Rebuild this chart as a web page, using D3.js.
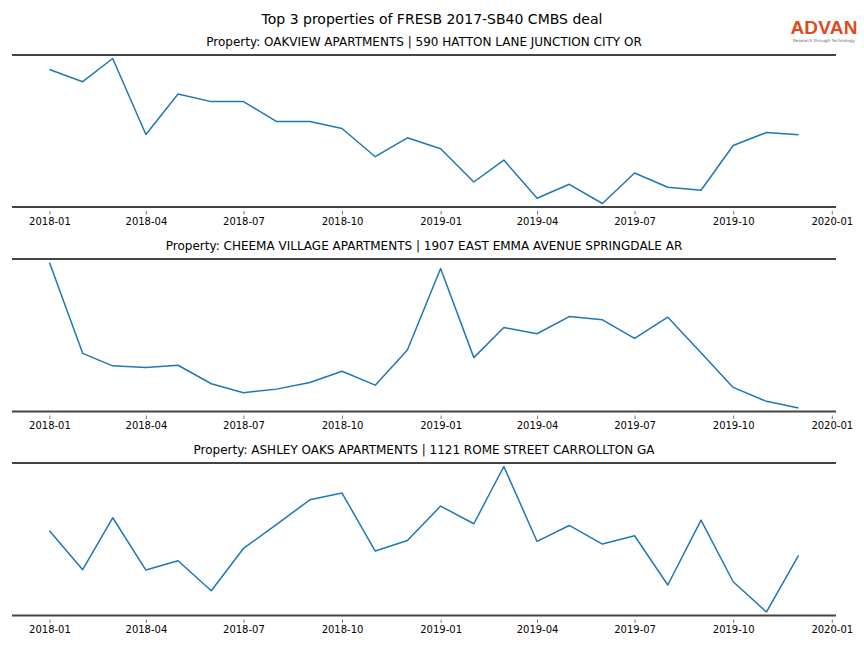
<!DOCTYPE html>
<html>
<head>
<meta charset="utf-8">
<script src="https://cdn.jsdelivr.net/npm/d3@7"></script>
<style>
  html, body { margin: 0; padding: 0; background: #fff; }
  svg { display: block; font-family: "DejaVu Sans", sans-serif; }
</style>
</head>
<body>
<svg id="chart" width="864" height="648"></svg>
<script>
// ---- Data ----
const months = [
  "2018-01","2018-02","2018-03","2018-04","2018-05","2018-06",
  "2018-07","2018-08","2018-09","2018-10","2018-11","2018-12",
  "2019-01","2019-02","2019-03","2019-04","2019-05","2019-06",
  "2019-07","2019-08","2019-09","2019-10","2019-11","2019-12"
];
const tickLabels = ["2018-01","2018-04","2018-07","2018-10","2019-01","2019-04","2019-07","2019-10","2020-01"];

const chartTitle = "Top 3 properties of FRESB 2017-SB40 CMBS deal";
const propertyTitles = [
  "Property: OAKVIEW APARTMENTS | 590 HATTON LANE JUNCTION CITY OR",
  "Property: CHEEMA VILLAGE APARTMENTS | 1907 EAST EMMA AVENUE SPRINGDALE AR",
  "Property: ASHLEY OAKS APARTMENTS | 1121 ROME STREET CARROLLTON GA"
];

// relative activity index per month
const oakviewValues = [137.0, 124.7, 148.0, 71.7, 112.4, 104.7, 104.7, 84.7, 84.7, 77.7, 49.4, 68.4,
                       57.4, 24.0, 46.0, 7.7, 21.7, 2.4, 33.0, 18.7, 15.7, 60.7, 73.7, 71.4];
const cheemaValues  = [149.4, 58.0, 45.4, 43.7, 46.0, 27.4, 18.4, 22.0, 28.7, 40.0, 26.0, 61.4,
                       143.4, 53.7, 84.0, 77.7, 95.0, 91.7, 73.0, 94.4, 58.7, 23.7, 9.7, 3.0];
const ashleyValues  = [84.3, 45.3, 97.3, 45.0, 54.3, 24.3, 66.6, 90.6, 115.3, 122.0, 64.0, 74.6,
                       109.0, 91.3, 148.6, 73.6, 89.6, 71.0, 79.3, 30.0, 95.0, 33.3, 3.0, 59.6];

const seriesList = [oakviewValues, cheemaValues, ashleyValues];

// ---- Layout ----
const svg = d3.select("#chart");
const W = 864;
const left = 12, right = 836;
const panels = [ {top: 55, bottom: 207}, {top: 259, bottom: 411.5}, {top: 463, bottom: 615.5} ];
const parse = d3.timeParse("%Y-%m");
const dates = months.map(parse);
const tickDates = tickLabels.map(parse);

// x scale: matplotlib-like 5% margin around the data range
const x0 = dates[0], x1 = dates[dates.length - 1];
const span = x1 - x0;
const x = d3.scaleTime()
  .domain([new Date(+x0 - span * 0.05), new Date(+x1 + span * 0.05)])
  .range([left, right]);

svg.append("text")
  .attr("x", W / 2).attr("y", 24)
  .attr("text-anchor", "middle")
  .attr("font-size", 14)
  .attr("fill", "#000")
  .text(chartTitle);

// logo
const logo = svg.append("g");
logo.append("text")
  .attr("x", 824).attr("y", 34)
  .attr("text-anchor", "middle")
  .attr("font-size", 19)
  .attr("font-weight", "bold")
  .attr("font-family", "'Liberation Sans', Arial, sans-serif")
  .attr("fill", "#e04a1c")
  .attr("letter-spacing", 0.2)
  .text("ADVAN");
logo.append("text")
  .attr("x", 824).attr("y", 41.5)
  .attr("text-anchor", "middle")
  .attr("font-size", 4.2)
  .attr("fill", "#666")
  .text("Research through Technology");

seriesList.forEach((vals, i) => {
  const p = panels[i];
  const [mn, mx] = d3.extent(vals);
  const pad = (mx - mn) * 0.024;
  const y = d3.scaleLinear().domain([mn - pad, mx + pad]).range([p.bottom, p.top]);
  const g = svg.append("g");

  // subtitle
  g.append("text")
    .attr("x", (left + right) / 2 + 0).attr("y", p.top - 9)
    .attr("text-anchor", "middle")
    .attr("font-size", 12)
    .attr("fill", "#000")
    .text(propertyTitles[i]);

  // spines
  [p.top, p.bottom].forEach(yy => {
    g.append("line")
      .attr("x1", left).attr("x2", right)
      .attr("y1", yy).attr("y2", yy)
      .attr("stroke", "#444").attr("stroke-width", 1.8);
  });

  // x axis ticks
  const axis = d3.axisBottom(x)
    .tickValues(tickDates)
    .tickFormat(d3.timeFormat("%Y-%m"))
    .tickSize(3.5)
    .tickPadding(3);
  const ax = g.append("g")
    .attr("transform", `translate(0,${p.bottom + 4})`)
    .call(axis);
  ax.select(".domain").remove();
  ax.selectAll(".tick line").attr("stroke", "#555").attr("stroke-width", 0.8);
  ax.selectAll(".tick text")
    .attr("font-size", 10)
    .attr("font-family", "'DejaVu Sans', sans-serif")
    .attr("fill", "#000");

  // line
  const line = d3.line()
    .x((d, j) => x(dates[j]))
    .y(d => y(d));
  g.append("path")
    .datum(vals)
    .attr("d", line)
    .attr("fill", "none")
    .attr("stroke", "#1f77b4")
    .attr("stroke-width", 1.5)
    .attr("stroke-linejoin", "round");
});
</script>
</body>
</html>
